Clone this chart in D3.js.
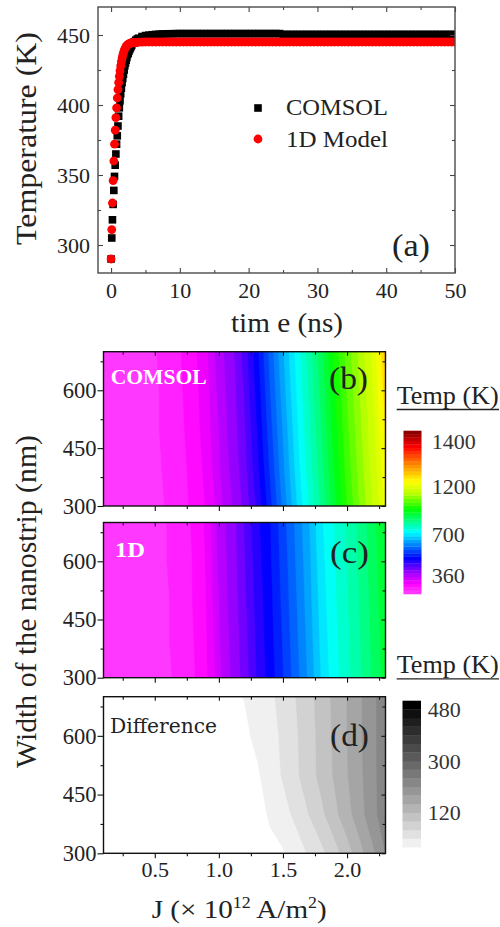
<!DOCTYPE html>
<html><head><meta charset="utf-8">
<script src="https://cdn.jsdelivr.net/npm/d3@7"></script>
<style>
body{margin:0;background:#fff}
svg{display:block}
text{font-family:'Liberation Serif','Times New Roman',serif;fill:#222}
</style>
</head><body><svg id="chart" width="500" height="927"></svg>
<script>
// ---------------- DATA ----------------
// Panel (a): temperature vs time
const time = [0,0.1,0.2,0.3,0.4,0.5,0.6,0.7,0.8,0.9,
  1,1.1,1.2,1.3,1.4,1.5,1.6,1.7,1.8,1.9,
  2,2.1,2.2,2.3,2.4,2.5,2.6,2.7,2.8,2.9,
  3,3.2,3.4,3.6,3.8,4,4.5,5,
  5.5,6,6.5,7,7.5,8,8.5,9,9.5,10,10.5,11,11.5,12,12.5,13,13.5,14,14.5,15,15.5,16,16.5,17,17.5,18,18.5,19,19.5,20,
  20.5,21,21.5,22,22.5,23,23.5,24,24.5,25,25.5,26,26.5,27,27.5,28,28.5,29,29.5,30,30.5,31,31.5,32,32.5,33,33.5,34,34.5,35,
  35.5,36,36.5,37,37.5,38,38.5,39,39.5,40,40.5,41,41.5,42,42.5,43,43.5,44,44.5,45,45.5,46,46.5,47,47.5,48,48.5,49,49.5,50];
const comsolT = [290,305,318,329,339,349,357,365,372,378,
  385,392,398,403,408,412,416,419,422,425,
  428,430,432,434,436,437,438.5,439.6,440.7,441.7,
  442.6,444.1,445.3,446.3,447.1,447.7,448.9,449.6,
  449.9,450.2,450.4,450.6,450.7,450.8,450.9,450.9,451,451,451,451,451,451,451,451,451,451,451,451,451,451,451,451,451,451,451,451,451,451,
  451,451,451,451,451,451,451,451,451,450.4,450.4,450.4,450.4,450.4,450.4,450.4,450.4,450.4,450.4,450.4,450.4,450.4,450.4,450.4,450.4,450.4,450.4,450.4,450.4,450.4,
  450.4,450.4,450.4,450.4,450.4,450.4,450.4,450.4,450.4,450.4,450.4,450.4,450.4,450.4,450.4,450.4,450.4,450.4,450.4,450.4,450.4,450.4,450.4,450.4,450.4,450.4,450.4,450.4,450.4,450.4];
const model1DT = [290,311,330,346,360,372,382,391,398,405,
  411,416,420.5,424.5,428,431,433.5,435.5,437.3,438.8,
  440,441,441.8,442.4,442.9,443.3,443.6,443.9,444.1,444.3,
  444.4,444.6,444.7,444.8,444.8,444.9,444.9,445,
  445,445,445,445,445,445,445,445,445,445,445,445,445,445,445,445,445,445,445,445,445,445,445,445,445,445,445,445,445,445,
  445,445,445,445,445,445,445,445,445,445,445,445,445,445,445,445,445,445,445,445,445,445,445,445,445,445,445,445,445,445,
  445,445,445,445,445,445,445,445,445,445,445,445,445,445,445,445,445,445,445,445,445,445,445,445,445,445,445,445,445,445];
const seriesNames = ["COMSOL", "1D Model"];
const timeTicks = [0,10,20,30,40,50];
const timeMinorTicks = [5,15,25,35,45];
const tempTicks = [300,350,400,450];
const tempMinorTicks = [325,375,425];

// Panels (b)-(d): maps over current density J and strip width
const currentJ = [0.1,0.2,0.3,0.4,0.5,0.6,0.7,0.8,0.9,1.0,1.1,1.2,1.3,1.4,1.5,1.6,1.7,1.8,1.9,2.0,2.1,2.2,2.3];
const widthNm = [300,400,500,600,700];
const comsolMap = [
  [300,300,302,304,307,312,317,324,333,347,370,408,463,531,604,675,748,828,913,1001,1075,1145,1214],
  [300,300,302,305,308,313,318,325,335,351,377,418,476,546,619,689,764,844,932,1016,1089,1159,1229],
  [300,301,302,305,309,314,319,327,337,354,381,425,486,558,629,699,776,856,947,1028,1099,1169,1239],
  [300,301,303,306,309,314,320,328,338,357,385,432,495,569,640,710,788,868,961,1039,1110,1180,1250],
  [300,301,303,306,310,315,321,329,340,360,390,440,505,580,650,720,800,880,975,1050,1120,1190,1260]];
const model1DMap = [
  [300,300,302,303,306,309,314,320,330,348,374,412,459,498,540,585,631,685,733,774,815,861,910],
  [300,301,302,303,306,310,315,321,331,351,377,417,464,502,544,590,636,691,737,778,819,866,915],
  [300,301,302,304,306,310,315,322,332,353,380,421,468,505,549,594,641,696,742,782,824,870,920],
  [300,301,302,304,307,311,316,322,333,356,382,426,473,509,553,599,645,702,746,786,828,875,925],
  [300,301,302,304,307,311,316,323,334,358,385,430,478,512,558,603,650,708,750,790,832,880,930]];
const differenceMap = [
  [-8,-8,-8,-8,-8,-8,-8,-8,-8,-8,-8,-8,-8,-8,-3,15,33,52,77,106,139,173,210],
  [-12,-12,-12,-12,-12,-12,-12,-12,-12,-12,-12,-12,-11,4,19,37,60,83,111,139,168,200,228],
  [-6,-6,-6,-6,-6,-6,-6,-6,-6,-6,-6,-6,-4,15,33,54,77,99,123,148,173,201,229],
  [-6,-6,-6,-6,-6,-6,-6,-6,-6,-6,-6,-6,7,20,35,56,77,100,125,150,175,202,229],
  [-5,-5,-5,-5,-5,-5,-5,-5,-5,-5,-5,1,12,24,40,60,80,103,127,150,175,202,229]];
const jTicks = [0.5,1.0,1.5,2.0];
const jMinorTicks = [0.25,0.75,1.25,1.75,2.25];
const widthTicks = [300,450,600];
const widthMinorTicks = [375,525,675];
const tempLevels = [300,360,700,1200,1400,1450];     // colour-bar anchor values
const tempBarTicks = [360,700,1200,1400];
const diffLevels = [0,30,60,90,120,150,180,210,240,270,300,330,360,390,420,450,480];
const diffBarTicks = [120,300,480];

// ---------------- DRAWING ----------------
const FONT = "'Liberation Serif','Times New Roman',serif";
const svg = d3.select("#chart");
const defs = svg.append("defs");

function styleAxis(g, size, color) {
  g.select(".domain").remove();
  g.attr("font-family", FONT).attr("font-size", size);
  g.selectAll(".tick line").attr("stroke", color).attr("stroke-width", 1.1);
  g.selectAll(".tick text").attr("fill", "#222");
}

// ===== Panel (a) =====
const A = {l: 98, r: 455, t: 7, b: 273};
const xA = d3.scaleLinear().domain([-1.9, 50]).range([A.l, A.r]);
const yA = d3.scaleLinear().domain([280, 470]).range([A.b, A.t]);
defs.append("clipPath").attr("id", "clipA").append("rect")
  .attr("x", A.l).attr("y", A.t).attr("width", A.r - A.l).attr("height", A.b - A.t);

const gA = svg.append("g");
const marks = gA.append("g").attr("clip-path", "url(#clipA)");
const ptsC = time.map((t, i) => ({t, v: comsolT[i]}));
const ptsM = time.map((t, i) => ({t, v: model1DT[i]}));
marks.append("g").selectAll("rect").data(ptsC).join("rect")
  .attr("x", d => xA(d.t) - 3.8).attr("y", d => yA(d.v) - 3.8)
  .attr("width", 7.6).attr("height", 7.6).attr("fill", "#000");
marks.append("g").selectAll("circle").data(ptsM).join("circle")
  .attr("cx", d => xA(d.t)).attr("cy", d => yA(d.v)).attr("r", 4.4).attr("fill", "#ff0000");

const axCol = "#444";
gA.append("g").attr("transform", `translate(0,${A.b})`)
  .call(d3.axisBottom(xA).tickValues(timeTicks).tickSize(-5).tickPadding(9).tickFormat(d3.format("d")))
  .call(g => styleAxis(g, 22, axCol));
gA.append("g").attr("transform", `translate(0,${A.b})`)
  .call(d3.axisBottom(xA).tickValues(timeMinorTicks).tickSize(-3).tickFormat(""))
  .call(g => styleAxis(g, 22, axCol));
gA.append("g").attr("transform", `translate(0,${A.t})`)
  .call(d3.axisTop(xA).tickValues(timeTicks).tickSize(-5).tickFormat(""))
  .call(g => styleAxis(g, 22, axCol));
gA.append("g").attr("transform", `translate(0,${A.t})`)
  .call(d3.axisTop(xA).tickValues(timeMinorTicks).tickSize(-3).tickFormat(""))
  .call(g => styleAxis(g, 22, axCol));
gA.append("g").attr("transform", `translate(${A.l},0)`)
  .call(d3.axisLeft(yA).tickValues(tempTicks).tickSize(-5).tickPadding(8))
  .call(g => styleAxis(g, 22, axCol));
gA.append("g").attr("transform", `translate(${A.l},0)`)
  .call(d3.axisLeft(yA).tickValues(tempMinorTicks).tickSize(-3).tickFormat(""))
  .call(g => styleAxis(g, 22, axCol));
gA.append("g").attr("transform", `translate(${A.r},0)`)
  .call(d3.axisRight(yA).tickValues(tempTicks).tickSize(-5).tickFormat(""))
  .call(g => styleAxis(g, 22, axCol));
gA.append("g").attr("transform", `translate(${A.r},0)`)
  .call(d3.axisRight(yA).tickValues(tempMinorTicks).tickSize(-3).tickFormat(""))
  .call(g => styleAxis(g, 22, axCol));
gA.append("rect").attr("x", A.l).attr("y", A.t).attr("width", A.r - A.l).attr("height", A.b - A.t)
  .attr("fill", "none").attr("stroke", "#4a4a4a").attr("stroke-width", 1.4);

// legend
gA.append("rect").attr("x", 258 - 3.8).attr("y", 108 - 3.8).attr("width", 7.6).attr("height", 7.6).attr("fill", "#000");
gA.append("circle").attr("cx", 258).attr("cy", 139).attr("r", 4.4).attr("fill", "#ff0000");
gA.append("text").attr("x", 286).attr("y", 115).attr("font-size", 23)
  .attr("textLength", 102).attr("lengthAdjust", "spacingAndGlyphs").text(seriesNames[0]);
gA.append("text").attr("x", 286).attr("y", 147).attr("font-size", 23)
  .attr("textLength", 102).attr("lengthAdjust", "spacingAndGlyphs").text(seriesNames[1]);
gA.append("text").attr("x", 392).attr("y", 256).attr("font-size", 32)
  .attr("textLength", 38).attr("lengthAdjust", "spacingAndGlyphs").text("(a)");
// titles
gA.append("text").attr("transform", "translate(36,138.5) rotate(-90)").attr("text-anchor", "middle")
  .attr("font-size", 30).attr("textLength", 213).attr("lengthAdjust", "spacingAndGlyphs").text("Temperature (K)");
gA.append("text").attr("x", 287).attr("y", 332).attr("text-anchor", "middle")
  .attr("font-size", 28).attr("textLength", 112).attr("lengthAdjust", "spacingAndGlyphs").text("tim e (ns)");

// ===== Panels (b)-(d) =====
const PX = {l: 103.5, r: 385.5};
const xJ = d3.scaleLinear().domain([0.1, 2.3]).range([PX.l, PX.r]);

// rainbow colour map (position 0..1 along the bar)
const tempToPos = d3.scaleLinear().domain(tempLevels).range([0, 0.116, 0.367, 0.657, 0.933, 1]);
const rainbow = d3.scaleLinear()
  .domain([0, 0.06, 0.13, 0.22, 0.30, 0.38, 0.45, 0.52, 0.62, 0.69, 0.80, 0.90, 1])
  .range(["#ff44ff", "#ff00ff", "#a000ff", "#0000ff", "#0080ff", "#00ffff", "#00ff80", "#00ff00",
          "#c0ff00", "#ffff00", "#ff8000", "#ff0000", "#800000"])
  .interpolate(d3.interpolateRgb).clamp(true);
const NB = 48;
const tempThresholds = d3.range(1, NB).map(k => tempToPos.invert(k / NB));
const tempBandColor = k => rainbow((k + 0.5) / NB);      // k = band index
const grayBandColor = k => { const v = Math.round(255 * (1 - k / 17)); return `rgb(${v},${v},${v})`; };

const panels = [
  {id: "b", t: 351.7, b: 506, map: comsolMap, kind: "temp", label: "(b)", lx: 329, ly: 389, tag: "COMSOL", tagLen: 96, ty: 384},
  {id: "c", t: 522.5, b: 677.7, map: model1DMap, kind: "temp", label: "(c)", lx: 330, ly: 563, tag: "1D", tagLen: 30, ty: 556.7},
  {id: "d", t: 696.7, b: 853.3, map: differenceMap, kind: "diff", label: "(d)", lx: 330, ly: 746, tag: "Difference", tagLen: 107, ty: 732.7}
];

const nx = currentJ.length, ny = widthNm.length;
const dJ = currentJ[1] - currentJ[0], dW = widthNm[1] - widthNm[0];

panels.forEach((P, pi) => {
  const yW = d3.scaleLinear().domain([300, 700]).range([P.b, P.t]);
  const g = svg.append("g");
  defs.append("clipPath").attr("id", "clip" + P.id).append("rect")
    .attr("x", PX.l).attr("y", P.t).attr("width", PX.r - PX.l).attr("height", P.b - P.t);
  const field = g.append("g").attr("clip-path", `url(#clip${P.id})`);
  const proj = d3.geoTransform({
    point: function (x, y) {
      this.stream.point(xJ(currentJ[0] + (x - 0.5) * dJ), yW(widthNm[0] + (y - 0.5) * dW));
    }
  });
  const path = d3.geoPath(proj);
  const flat = P.map.flat();
  let ths, colorOf, bg;
  if (P.kind === "temp") {
    ths = tempThresholds; colorOf = i => tempBandColor(i + 1); bg = tempBandColor(0);
  } else {
    ths = diffLevels; colorOf = i => grayBandColor(i + 1); bg = "#ffffff";
  }
  field.append("rect").attr("x", PX.l).attr("y", P.t).attr("width", PX.r - PX.l).attr("height", P.b - P.t).attr("fill", bg);
  const cs = d3.contours().size([nx, ny]).thresholds(ths)(flat);
  field.selectAll("path").data(cs).join("path")
    .attr("d", path).attr("fill", (d, i) => colorOf(i))
    .attr("stroke", (d, i) => colorOf(i)).attr("stroke-width", 0.4);

  // axes
  const col = "#111";
  g.append("g").attr("transform", `translate(0,${P.b})`)
    .call(d3.axisBottom(xJ).tickValues(jTicks).tickSize(5).tickPadding(3)
      .tickFormat(pi === 2 ? d3.format(".1f") : ""))
    .call(s => styleAxis(s, 22, col));
  g.append("g").attr("transform", `translate(0,${P.b})`)
    .call(d3.axisBottom(xJ).tickValues(jMinorTicks).tickSize(3).tickFormat(""))
    .call(s => styleAxis(s, 22, col));
  g.append("g").attr("transform", `translate(0,${P.t})`)
    .call(d3.axisTop(xJ).tickValues(jTicks).tickSize(-4).tickFormat(""))
    .call(s => styleAxis(s, 22, col));
  g.append("g").attr("transform", `translate(0,${P.t})`)
    .call(d3.axisTop(xJ).tickValues(jMinorTicks).tickSize(-3).tickFormat(""))
    .call(s => styleAxis(s, 22, col));
  g.append("g").attr("transform", `translate(${PX.l},0)`)
    .call(d3.axisLeft(yW).tickValues(widthTicks).tickSize(6).tickPadding(1))
    .call(s => styleAxis(s, 22.5, col));
  g.append("g").attr("transform", `translate(${PX.l},0)`)
    .call(d3.axisLeft(yW).tickValues(widthMinorTicks).tickSize(3).tickFormat(""))
    .call(s => styleAxis(s, 22, col));
  g.append("g").attr("transform", `translate(${PX.r},0)`)
    .call(d3.axisRight(yW).tickValues(widthTicks).tickSize(-4).tickFormat(""))
    .call(s => styleAxis(s, 22, col));
  g.append("g").attr("transform", `translate(${PX.r},0)`)
    .call(d3.axisRight(yW).tickValues(widthMinorTicks).tickSize(-3).tickFormat(""))
    .call(s => styleAxis(s, 22, col));
  g.append("rect").attr("x", PX.l).attr("y", P.t).attr("width", PX.r - PX.l).attr("height", P.b - P.t)
    .attr("fill", "none").attr("stroke", "#111").attr("stroke-width", 1.4);

  // labels
  g.append("text").attr("x", P.lx).attr("y", P.ly).attr("font-size", 32)
    .attr("textLength", 39).attr("lengthAdjust", "spacingAndGlyphs").text(P.label);
  if (P.kind === "temp") {
    g.append("text").attr("x", pi === 0 ? 110.7 : 115).attr("y", P.ty).attr("font-size", 21)
      .attr("font-weight", "bold").style("fill", "#ffffff")
      .attr("textLength", P.tagLen).attr("lengthAdjust", "spacingAndGlyphs").text(P.tag);
  } else {
    g.append("text").attr("x", 110).attr("y", P.ty).attr("font-size", 20)
      .style("font-family", "'DejaVu Serif',serif").style("fill", "#222")
      .attr("textLength", P.tagLen).attr("lengthAdjust", "spacingAndGlyphs").text(P.tag);
  }
});

// shared axis titles
svg.append("text").attr("transform", "translate(36,601.5) rotate(-90)").attr("text-anchor", "middle")
  .attr("font-size", 29).attr("textLength", 333).attr("lengthAdjust", "spacingAndGlyphs")
  .text("Width of the nanostrip (nm)");
const xt = svg.append("text").attr("x", 151.7).attr("y", 918).attr("font-size", 26)
  .attr("textLength", 175).attr("lengthAdjust", "spacingAndGlyphs");
xt.append("tspan").text("J (\u00d7 10");
xt.append("tspan").attr("dy", -10).attr("font-size", 16).text("12");
xt.append("tspan").attr("dy", 10).text(" A/m");
xt.append("tspan").attr("dy", -10).attr("font-size", 16).text("2");
xt.append("tspan").attr("dy", 10).text(")");

// ===== Colour bars =====
const CB = {x: 403.5, w: 18};
// rainbow
const barY = d3.scaleLinear().domain([0, 1]).range([594, 430.7]);
const gR = svg.append("g");
gR.selectAll("rect").data(d3.range(NB)).join("rect")
  .attr("x", CB.x).attr("width", CB.w)
  .attr("y", k => barY((k + 1) / NB)).attr("height", k => barY(k / NB) - barY((k + 1) / NB) + 0.3)
  .attr("fill", k => tempBandColor(k));
gR.selectAll("text").data(tempBarTicks).join("text")
  .attr("x", 431.7).attr("y", v => barY(tempToPos(v))).attr("dy", "0.35em")
  .attr("font-size", 22).style("fill", "#333").text(v => v);

// gray
const grayY = d3.scaleLinear().domain([-25, 510]).range([854.3, 700.7]);
const grayEdges = [-25].concat(diffLevels).concat([510]);
const gG = svg.append("g");
gG.selectAll("rect").data(d3.range(grayEdges.length - 1)).join("rect")
  .attr("x", CB.x - 1).attr("width", CB.w + 0.5)
  .attr("y", k => grayY(grayEdges[k + 1])).attr("height", k => grayY(grayEdges[k]) - grayY(grayEdges[k + 1]) + 0.3)
  .attr("fill", k => grayBandColor(k));
gG.selectAll("text").data(diffBarTicks).join("text")
  .attr("x", 427.7).attr("y", v => grayY(v)).attr("dy", "0.35em")
  .attr("font-size", 22).style("fill", "#333").text(v => v);

// "Temp (K)" titles
[[404, 409.5], [673.3, 678.8]].forEach(([by, uy]) => {
  svg.append("text").attr("x", 396.7).attr("y", by).attr("font-size", 25)
    .attr("textLength", 102).attr("lengthAdjust", "spacingAndGlyphs").text("Temp (K)");
  svg.append("line").attr("x1", 396.7).attr("x2", 499).attr("y1", uy).attr("y2", uy)
    .attr("stroke", "#222").attr("stroke-width", 1.3);
});
</script>
</body></html>
